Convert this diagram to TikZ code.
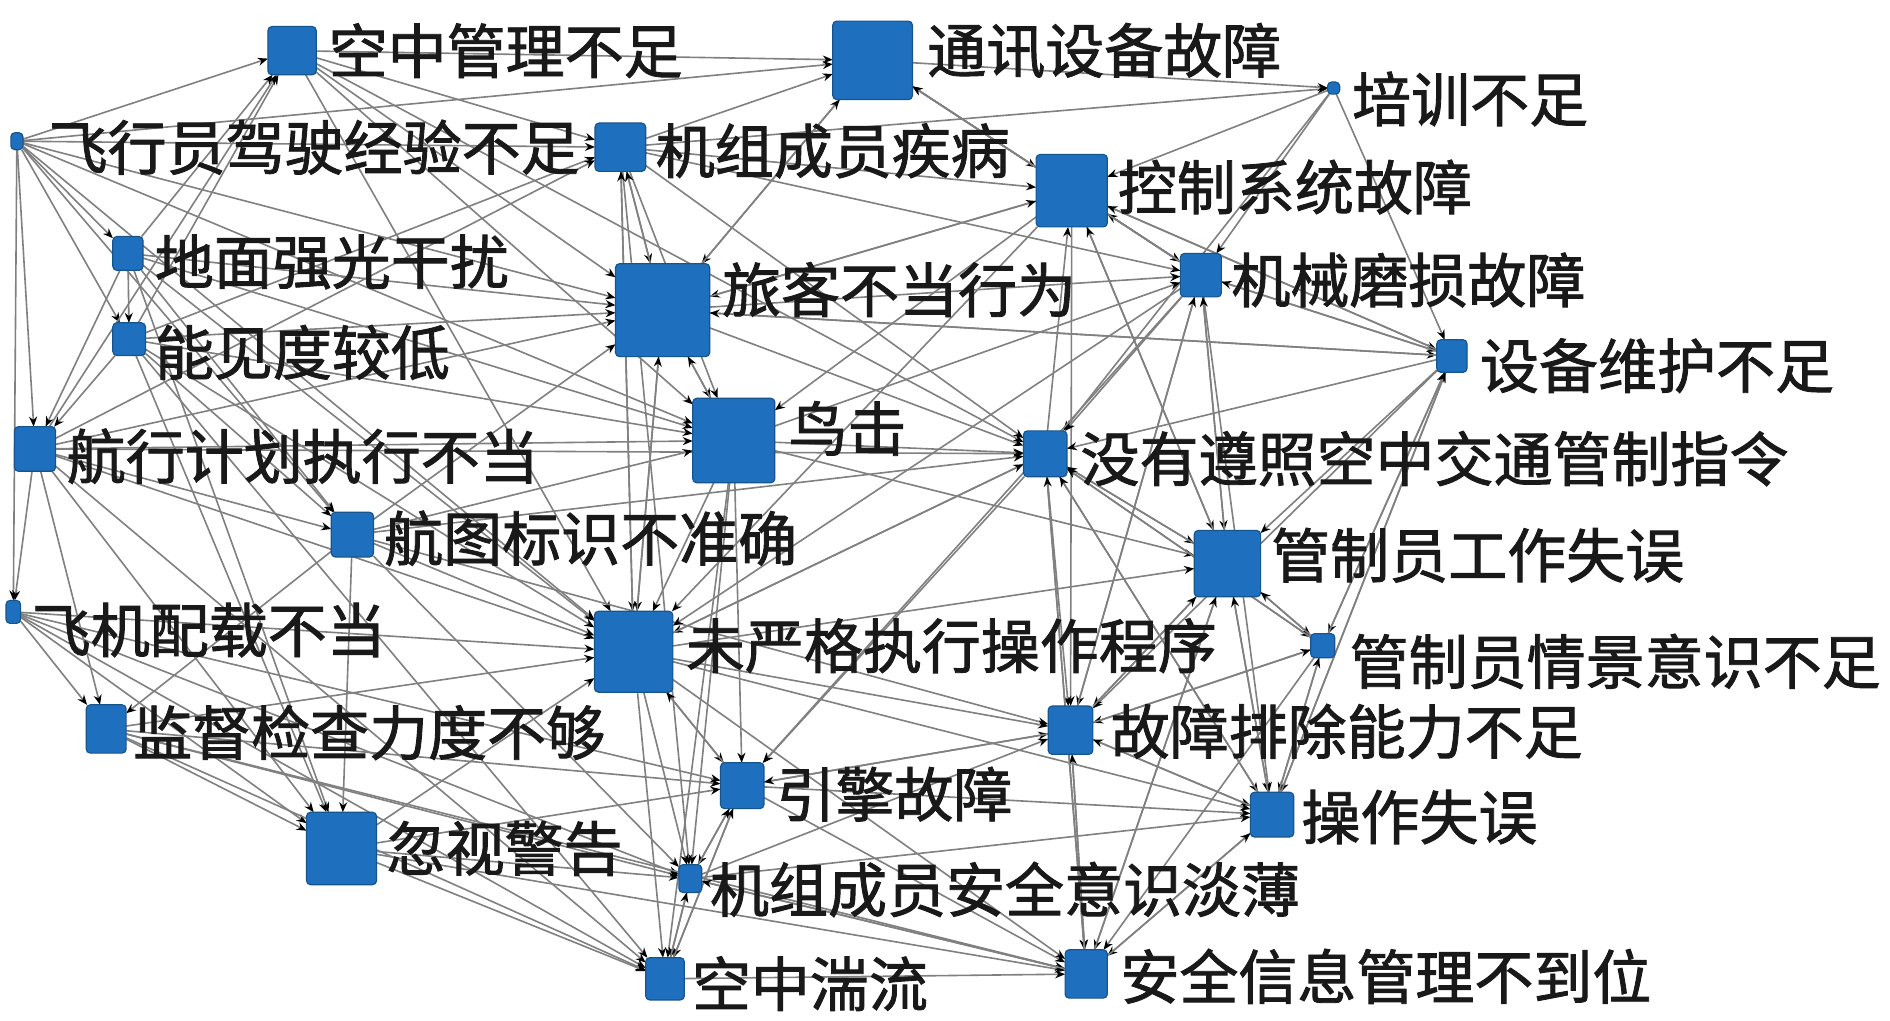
\documentclass[tikz,border=0pt]{standalone}
\usepackage{fontspec}
\newfontfamily\cjk{Noto Sans CJK SC}[FakeBold=1.5]
\usetikzlibrary{arrows.meta}
\pgfdeclarelayer{bg}
\pgfsetlayers{bg,main}
\definecolor{nodeblue}{RGB}{30,112,190}
\begin{document}
\begin{tikzpicture}[x=0.6035pt,y=-0.6035pt,
  box/.style 2 args={fill=nodeblue, draw=nodeblue!75!black, line width=0.6pt, rounded corners=2pt, inner sep=0pt, outer sep=0pt, minimum width=#1*0.6035pt, minimum height=#2*0.6035pt},
  lab/.style={anchor=west, inner sep=0pt, font=\cjk\fontsize{29.5pt}{30pt}\selectfont, text=black!90},
  edge/.style={draw=black!50, line width=0.8pt, -{Stealth[length=5pt,width=4pt,black]}}]
\useasboundingbox (0,0) rectangle (1566,845.2);
% boxes
\node[box={40}{40}] (a) at (242,42) {};
\node[box={66}{65}] (b) at (723,50) {};
\node[box={10}{10}] (c) at (1105,73) {};
\node[box={10}{14}] (d) at (14,117) {};
\node[box={42}{40}] (e) at (514,122) {};
\node[box={59}{60}] (f) at (888,158) {};
\node[box={25}{28}] (g) at (106,210) {};
\node[box={78}{77}] (h) at (549,257) {};
\node[box={34}{36}] (i) at (995,228) {};
\node[box={27}{27}] (j) at (107,281) {};
\node[box={25}{27}] (k) at (1203,295) {};
\node[box={34}{37}] (l) at (29,372) {};
\node[box={68}{70}] (m) at (608,365) {};
\node[box={36}{38}] (n) at (866,376) {};
\node[box={35}{37}] (o) at (292,443) {};
\node[box={55}{55}] (p) at (1017,467) {};
\node[box={12}{19}] (q) at (11,507) {};
\node[box={65}{67}] (r) at (525,540) {};
\node[box={20}{20}] (s) at (1096,535) {};
\node[box={33}{40}] (t) at (88,604) {};
\node[box={36}{38}] (u) at (615,651) {};
\node[box={37}{40}] (v) at (887,605) {};
\node[box={36}{37}] (w) at (1054,675) {};
\node[box={58}{60}] (x) at (283,703) {};
\node[box={19}{23}] (y) at (572,728) {};
\node[box={32}{35}] (z) at (551,811) {};
\node[box={35}{40}] (aa) at (900,807) {};
% labels
\node[lab] (la) at (272,42) {空中管理不足};
\node[lab] (lb) at (768,42) {通讯设备故障};
\node[lab] (lc) at (1120,82) {培训不足};
\node[lab] (ld) at (40,122) {飞行员驾驶经验不足};
\node[lab] (le) at (543,125) {机组成员疾病};
\node[lab] (lf) at (926,155) {控制系统故障};
\node[lab] (lg) at (128,217) {地面强光干扰};
\node[lab] (lh) at (598,240) {旅客不当行为};
\node[lab] (li) at (1020,232) {机械磨损故障};
\node[lab] (lj) at (128,292) {能见度较低};
\node[lab] (lk) at (1226,303) {设备维护不足};
\node[lab] (ll) at (55,378) {航行计划执行不当};
\node[lab] (lm) at (653,355) {鸟击};
\node[lab] (ln) at (895,380) {没有遵照空中交通管制指令};
\node[lab] (lo) at (318,446) {航图标识不准确};
\node[lab] (lp) at (1053,460) {管制员工作失误};
\node[lab] (lq) at (26,522) {飞机配载不当};
\node[lab] (lr) at (568,535) {未严格执行操作程序};
\node[lab] (ls) at (1118,548) {管制员情景意识不足};
\node[lab] (lt) at (110,607) {监督检查力度不够};
\node[lab] (lu) at (643,658) {引擎故障};
\node[lab] (lv) at (920,606) {故障排除能力不足};
\node[lab] (lw) at (1078,677) {操作失误};
\node[lab] (lx) at (320,703) {忽视警告};
\node[lab] (ly) at (588,737) {机组成员安全意识淡薄};
\node[lab] (lz) at (573,815) {空中湍流};
\node[lab] (laa) at (928,809) {安全信息管理不到位};
% edges
\begin{pgfonlayer}{bg}
\fill[white] (0,0) rectangle (1566,845.2);
\foreach \s/\t in {d/a,d/b,d/e,d/q,d/l,d/j,d/g,d/h,d/m,d/o,d/r,
  a/b,a/e,a/h,a/m,a/n,a/r,
  g/a,g/h,g/m,g/j,g/l,g/o,g/r,g/x,
  j/a,j/h,j/m,j/l,j/o,j/r,j/x,j/z,j/e,
  l/a,l/e,l/h,l/m,l/q,l/t,l/r,l/o,l/x,l/z,l/n,
  q/t,q/x,q/r,q/u,q/y,q/z,
  o/h,o/r,o/m,o/x,o/y,o/t,o/n,o/v,
  t/x,t/r,t/y,t/z,t/u,t/aa,
  x/y,x/z,x/aa,x/r,x/u,
  e/b,e/h,e/m,e/f,e/c,e/i,e/r,e/n,e/y,
  b/c,b/f,b/h,b/i,
  c/f,c/i,c/k,c/n,
  f/i,f/k,f/h,f/m,f/p,f/v,f/r,f/b,
  h/m,h/b,h/f,h/i,h/k,h/r,h/n,h/e,
  i/k,i/n,i/p,i/v,i/u,i/w,i/f,i/r,i/b,
  k/n,k/p,k/v,k/w,k/s,k/i,k/f,k/h,
  m/r,m/u,m/y,m/z,m/n,m/p,m/h,m/i,
  n/p,n/s,n/v,n/w,n/aa,n/r,n/f,n/u,
  p/s,p/v,p/w,p/aa,p/n,p/i,p/f,
  s/v,s/w,s/aa,s/p,s/k,s/n,
  r/u,r/y,r/z,r/v,r/w,r/aa,r/p,r/n,r/e,r/h,
  u/y,u/z,u/aa,u/w,u/v,u/r,
  v/w,v/aa,v/u,v/p,v/i,v/s,
  w/aa,w/v,w/s,w/p,w/n,w/k,
  y/z,y/aa,y/u,y/w,y/v,
  z/aa,z/y,z/u,
  aa/v,aa/w,aa/n,aa/p,aa/y}
  \draw[edge] (\s) -- (\t);
\end{pgfonlayer}
\end{tikzpicture}
\end{document}
